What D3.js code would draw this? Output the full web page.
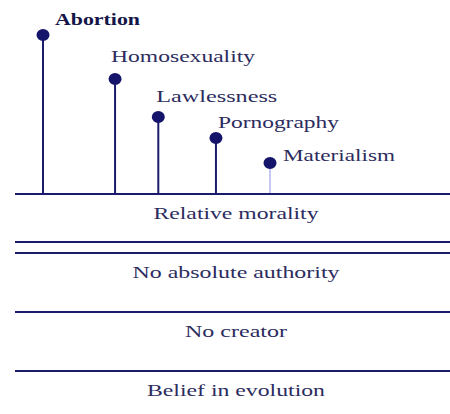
<!DOCTYPE html>
<html>
<head>
<meta charset="utf-8">
<script src="https://cdn.jsdelivr.net/npm/d3@7"></script>
<style>
  body { margin: 0; background: #fff; }
  text { font-family: "Liberation Serif", "Times New Roman", serif; }
</style>
</head>
<body>
<div id="chart"></div>
<script>
// consequences sitting on top of the "foundation" layers
var issues = ["Abortion", "Homosexuality", "Lawlessness", "Pornography", "Materialism"];
var issueHeights = [159, 115, 77, 56, 31];
var issueSlots = [1, 3, 4.2, 5.8, 7.3];

// foundation layers, top to bottom
var layers = ["Relative morality", "No absolute authority", "No creator", "Belief in evolution"];

// label placement relative to each dot: [dx, dy, width]
var labelLayout = [[12, -10, 85], [-4, -17, 144], [-2, -15, 121], [2, -10, 121], [13, -2, 112]];
var layerWidths = [165, 207, 102, 178];

var width = 450, height = 414;
var baseY = 194;

var svg = d3.select("#chart").append("svg")
    .attr("width", width)
    .attr("height", height);

var x = d3.scaleLinear().domain([1, 7.3]).range([43, 270]);
var y = d3.scaleLinear().domain([0, 159]).range([baseY, 35]);
var band = d3.scaleBand().domain(layers).range([baseY, baseY + 59 * 4]);

var navy = "#1b1b6b";

// stems
svg.selectAll(".stem")
    .data(issues)
  .enter().append("line")
    .attr("class", "stem")
    .attr("x1", function(d, i) { return x(issueSlots[i]); })
    .attr("x2", function(d, i) { return x(issueSlots[i]); })
    .attr("y1", y(0))
    .attr("y2", function(d, i) { return y(issueHeights[i]); })
    .attr("stroke", function(d, i) { return i == issues.length - 1 ? "#c4c8f2" : navy; })
    .attr("stroke-width", 2);

// dots
svg.selectAll(".dot")
    .data(issues)
  .enter().append("ellipse")
    .attr("class", "dot")
    .attr("cx", function(d, i) { return x(issueSlots[i]); })
    .attr("cy", function(d, i) { return y(issueHeights[i]); })
    .attr("rx", 6.5)
    .attr("ry", 6)
    .attr("fill", "#14146a");

// issue labels
svg.selectAll(".lbl")
    .data(issues)
  .enter().append("text")
    .attr("class", "lbl")
    .attr("x", function(d, i) { return x(issueSlots[i]) + labelLayout[i][0]; })
    .attr("y", function(d, i) { return y(issueHeights[i]) + labelLayout[i][1]; })
    .attr("font-size", 17)
    .attr("fill", function(d, i) { return i == 0 ? "#15154a" : "#2c2c5e"; })
    .attr("font-weight", function(d, i) { return i == 0 ? "bold" : "normal"; })
    .attr("textLength", function(d, i) { return labelLayout[i][2]; })
    .attr("lengthAdjust", "spacingAndGlyphs")
    .text(function(d) { return d; });

// layer lines
layers.forEach(function(l) {
  svg.append("line")
      .attr("x1", 15).attr("x2", width)
      .attr("y1", band(l)).attr("y2", band(l))
      .attr("stroke", navy).attr("stroke-width", 2);
});
// the extra rule under the first layer
svg.append("line")
    .attr("x1", 15).attr("x2", width)
    .attr("y1", band(layers[1]) - 11).attr("y2", band(layers[1]) - 11)
    .attr("stroke", navy).attr("stroke-width", 2);

// layer names
svg.selectAll(".layer")
    .data(layers)
  .enter().append("text")
    .attr("class", "layer")
    .attr("x", 236)
    .attr("y", function(d) { return band(d) + 25; })
    .attr("text-anchor", "middle")
    .attr("font-size", 17)
    .attr("fill", "#2c2c5e")
    .attr("textLength", function(d, i) { return layerWidths[i]; })
    .attr("lengthAdjust", "spacingAndGlyphs")
    .text(function(d) { return d; });
</script>
</body>
</html>
